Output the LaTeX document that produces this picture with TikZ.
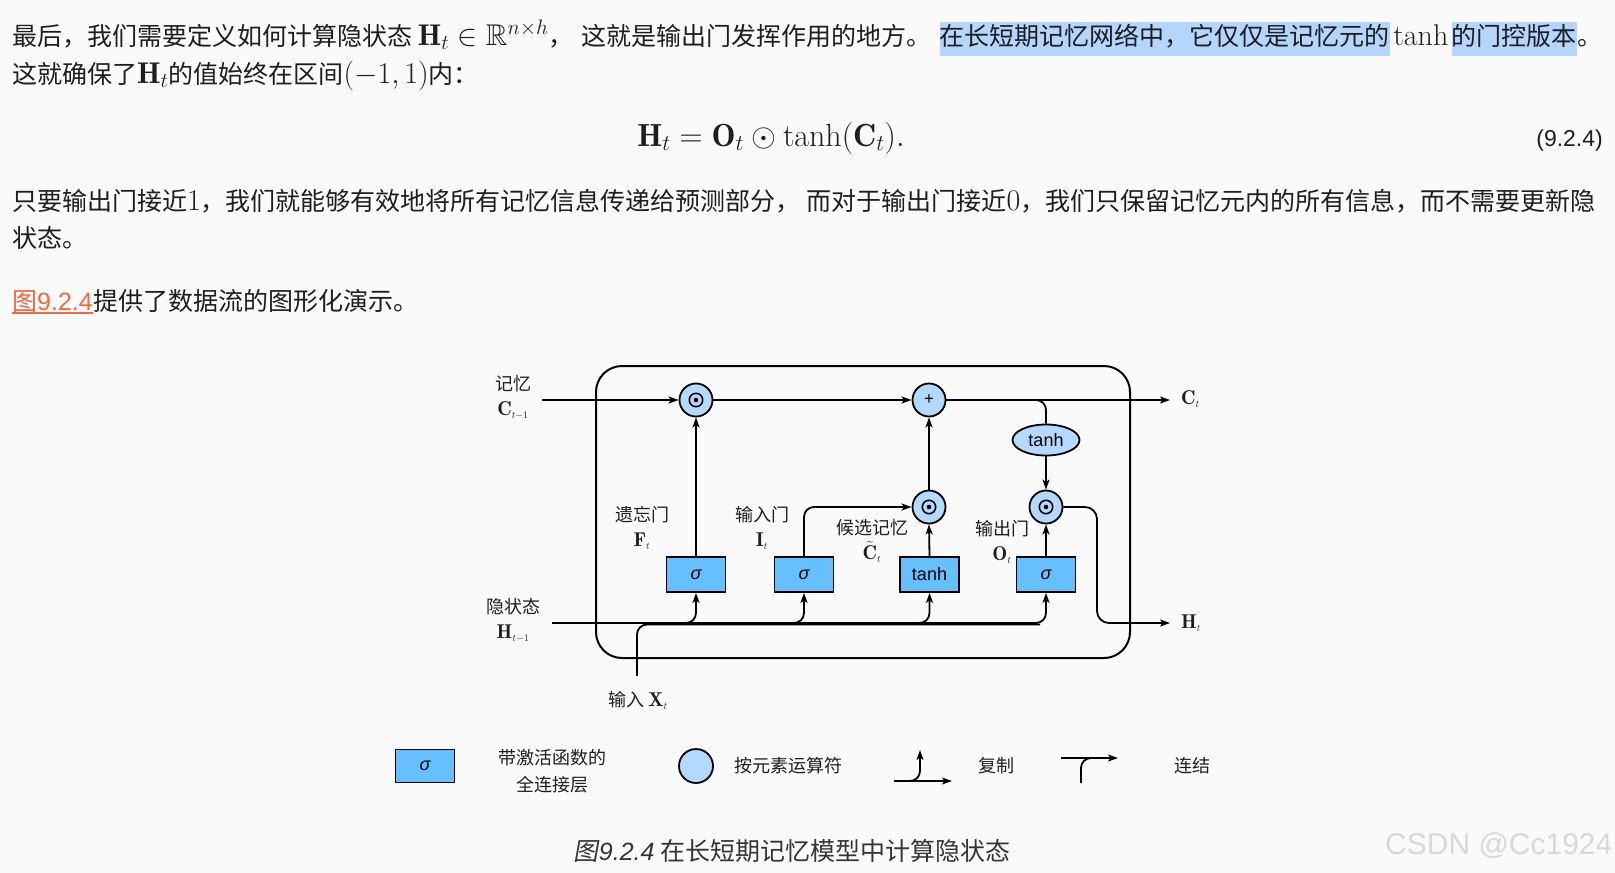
\documentclass[tikz,border=0pt]{standalone}
\usepackage{fix-cm}
\usepackage{amsmath, amssymb}
\usepackage{fontspec}
\usepackage{xcolor}
\usetikzlibrary{arrows.meta, shapes.geometric}
\newfontfamily\cjk{Noto Sans CJK SC}
\newfontfamily\cjkslant{Noto Sans CJK SC}[FakeSlant=0.18]
\newfontfamily\sansf{Liberation Sans}
\definecolor{page-bg}{HTML}{FAFAFA}
\definecolor{body-text}{HTML}{1E1E1E}
\definecolor{select-blue}{HTML}{B4D5FE}
\definecolor{link-orange}{HTML}{F4683C}
\definecolor{gate-blue}{HTML}{66BFFF}
\definecolor{op-blue}{HTML}{B3D9FF}
\definecolor{mark-gray}{HTML}{D8D8D8}
\newcommand{\lvar}[2]{{\fontsize{20}{20}\selectfont$\mathbf{#1}_{\scriptscriptstyle #2}$}}
\newcommand{\inl}[1]{{\rmfamily\fontsize{30}{30}\selectfont #1}}

\begin{document}
\begin{tikzpicture}[x=1pt, y=-1pt,
      body/.style={anchor=base west, inner sep=0pt, text=body-text,
        font=\cjk\fontsize{25}{30}\selectfont},
      sel/.style={body, fill=select-blue, text height=21pt, text depth=8pt,
        inner ysep=2.5pt},
      gate/.style={draw, line width=1.8pt, fill=gate-blue, minimum width=59pt,
        minimum height=35pt, inner sep=0pt, font=\sansf\fontsize{18}{20}\selectfont},
      op/.style={circle, draw, line width=1.8pt, fill=op-blue, minimum size=33pt,
        inner sep=0pt},
      mult/.style={op, path picture={
        \draw[black, line width=1.6pt] (path picture bounding box.center) circle[radius=6.7pt];
        \fill[black] (path picture bounding box.center) circle[radius=2.3pt];}},
      flow/.style={line width=1.8pt, -{Stealth[length=10pt, width=7pt, inset=2.5pt]}},
      wire/.style={line width=1.8pt},
      lbl/.style={align=center, inner sep=0pt, text=body-text,
        font=\cjk\fontsize{18}{25}\selectfont}]
    \fill[page-bg] (0,0) rectangle (1615,873);
    \useasboundingbox (0,0) rectangle (1615,873);

    % text above the figure
    \node[body] (l1a) at (12,45) {最后，我们需要定义如何计算隐状态 \inl{$\mathbf{H}_t \in \mathbb{R}^{n\times h}$}，\hspace{8pt}这就是输出门发挥作用的地方。};
    \node[sel] (l1b) at ([xshift=8pt]l1a.base east) {在长短期记忆网络中，它仅仅是记忆元的};
    \node[body] (l1c) at ([xshift=3pt]l1b.base east) {\inl{tanh}};
    \node[sel] (l1d) at ([xshift=3pt]l1c.base east) {的门控版本};
    \node[body] (l1e) at (l1d.base east) {。};
    \node[body] (l2) at (12,83) {这就确保了\inl{$\mathbf{H}_t$}的值始终在区间\inl{$(-1,1)$}内：};
    \node[anchor=base, inner sep=0pt, text=body-text, font=\fontsize{32}{36}\selectfont]
      (eq) at (771,146) {$\mathbf{H}_t = \mathbf{O}_t \odot \tanh(\mathbf{C}_t).$};
    \node[anchor=base east, inner sep=0pt, text=body-text, font=\sansf\fontsize{23}{28}\selectfont]
      (eqno) at (1603,146) {(9.2.4)};
    \node[body] (l3) at (12,210) {只要输出门接近\inl{1}，我们就能够有效地将所有记忆信息传递给预测部分，\ 而对于输出门接近\inl{0}，我们只保留记忆元内的所有信息，而不需要更新隐};
    \node[body] (l4) at (12,247) {状态。};
    \node[body, text=link-orange] (l5a) at (12,310) {图{\sansf 9.2.4}};
    \draw[link-orange, line width=1.5pt] ([yshift=-3pt]l5a.base west) -- ([yshift=-3pt]l5a.base east);
    \node[body] (l5b) at (l5a.base east) {提供了数据流的图形化演示。};

    % the cell
    \node[draw, line width=2pt, rounded corners=26pt, minimum width=534pt,
      minimum height=292pt] (cell) at (863,512) {};
    \node[mult] (mF) at (696,400) {};
    \node[op, font=\sansf\fontsize{17}{17}\selectfont] (pl) at (929,400) {+};
    \node[mult] (mI) at (929,507) {};
    \node[mult] (mO) at (1046,507) {};
    \node[ellipse, draw, line width=1.8pt, fill=op-blue, minimum width=67pt,
      minimum height=31pt, inner sep=0pt, font=\sansf\fontsize{18}{20}\selectfont]
      (th) at (1046,440) {tanh};
    \node[gate] (gF) at (696,574.5) {\itshape σ};
    \node[gate] (gI) at (804,574.5) {\itshape σ};
    \node[gate] (gC) at (929.5,574.5) {tanh};
    \node[gate] (gO) at (1046,574.5) {\itshape σ};

    \coordinate (cin) at (542,400);
    \coordinate (cout) at (1170,400);
    \coordinate (tap) at (1000,400);
    \coordinate (hin) at (552,623);
    \coordinate (hout) at (1170,623);
    \coordinate (hturn) at (1097,623);
    \coordinate (xin) at (637,676);
    \coordinate (xend) at (1040,624.5);

    \draw[flow] (cin) -- (mF.west);
    \draw[flow] (mF.east) -- (pl.west);
    \draw[flow] (pl.east) -- (cout);
    \draw[wire, rounded corners=10pt] (tap) -| (th.north);
    \draw[flow] (th.south) -- (mO.north);
    \draw[flow, rounded corners=12pt] (mO.east) -| (hturn) -- (hout);
    \draw[flow] (gF.north) -- (mF.south);
    \draw[flow, rounded corners=10pt] (gI.north) |- (mI.west);
    \draw[flow] (gC.north) -- (mI.south);
    \draw[flow] (mI.north) -- (pl.south);
    \draw[flow] (gO.north) -- (mO.south);
    \draw[wire, rounded corners=10pt] (xin) |- (xend);
    \foreach \g in {gF, gI, gC, gO}
      \draw[flow, rounded corners=10pt] (hin) -| (\g.south);

    % labels
    \node[lbl] (cinl) at (513,397) {记忆\\\lvar{C}{t-1}};
    \node[lbl] (hinl) at (513,620) {隐状态\\\lvar{H}{t-1}};
    \node[lbl] (gFl) at (642,528) {遗忘门\\\lvar{F}{t}};
    \node[lbl] (gIl) at (762,528) {输入门\\\lvar{I}{t}};
    \node[lbl] (gCl) at (872,541) {候选记忆\\{\fontsize{20}{20}\selectfont$\tilde{\mathbf{C}}_{\scriptscriptstyle t}$}};
    \node[lbl] (gOl) at (1002,542) {输出门\\\lvar{O}{t}};
    \node[lbl] (xinl) at (638,700) {输入\ \lvar{X}{t}};
    \node[lbl, anchor=west] (coutl) at (1181,399) {\lvar{C}{t}};
    \node[lbl, anchor=west] (houtl) at (1181,623) {\lvar{H}{t}};

    % legend
    \node[gate, minimum height=33pt] (lgbox) at (425,766) {\itshape σ};
    \node[lbl, font=\cjk\fontsize{18}{27}\selectfont] (lgboxt) at (552,771) {带激活函数的\\全连接层};
    \node[op, minimum size=34pt] (lgop) at (696,766) {};
    \node[lbl] (lgopt) at (788,766) {按元素运算符};
    \coordinate (cpa) at (894,781);
    \coordinate (cpb) at (952,781);
    \coordinate (cpc) at (920,750);
    \draw[flow] (cpa) -- (cpb);
    \draw[flow, rounded corners=10pt] (cpa) -| (cpc);
    \node[lbl] (cpt) at (996,766) {复制};
    \coordinate (cta) at (1061,758);
    \coordinate (ctb) at (1118,758);
    \coordinate (ctc) at (1081,783);
    \coordinate (ctm) at (1100,758);
    \draw[flow] (cta) -- (ctb);
    \draw[wire, rounded corners=10pt] (ctc) |- (ctm);
    \node[lbl] (ctt) at (1192,766) {连结};

    % caption and mark
    \node[font=\cjk\fontsize{25}{28}\selectfont, text=body-text!90!white] (cap) at (792,851)
      {{\cjkslant 图}{\sansf\itshape 9.2.4} 在长短期记忆模型中计算隐状态};
    \node[anchor=west, inner sep=0pt, font=\sansf\fontsize{30}{32}\selectfont, text=mark-gray]
      (mark) at (1385,846) {CSDN @Cc1924};
  \end{tikzpicture}
\end{document}
